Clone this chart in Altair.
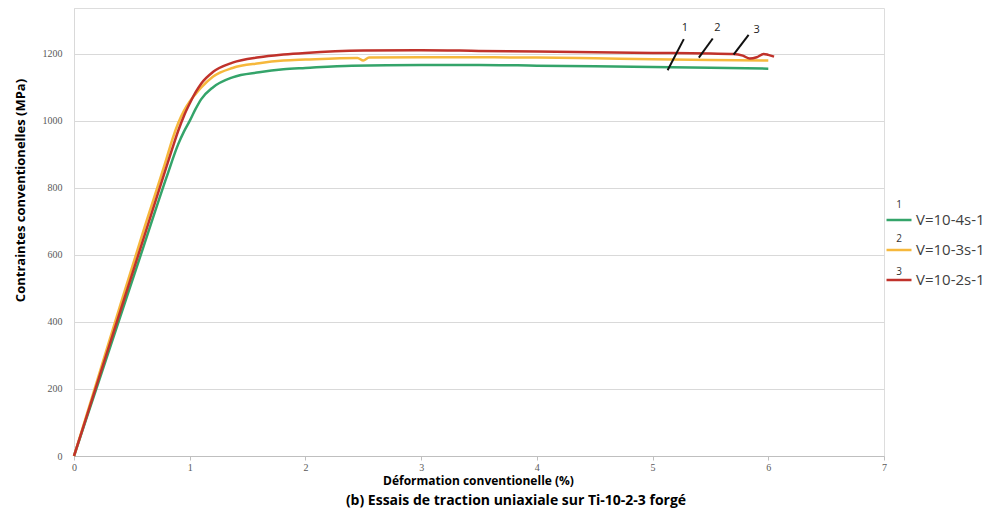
import altair as alt
import pandas as pd

# ---- data ----
series_names = ["V=10-4s-1", "V=10-3s-1", "V=10-2s-1"]
series_colors = ["#34A46A", "#F6B83C", "#C0322B"]

strain_1 = [0, 0.2, 0.4, 0.6, 0.8, 0.9, 0.95, 1.0, 1.05, 1.1, 1.2, 1.37, 1.6, 1.81, 2.0, 2.4, 3.0, 3.5, 4.0, 4.5, 5.0, 5.5, 6.0]
stress_1 = [0, 208, 416, 624, 832, 930, 968, 1000, 1035, 1065, 1100, 1130, 1145, 1154, 1158, 1165, 1167, 1167, 1165, 1163, 1161, 1159, 1156]

strain_2 = [0, 0.2, 0.4, 0.6, 0.8, 0.85, 0.9, 0.95, 1.0, 1.05, 1.1, 1.2, 1.37, 1.6, 1.81, 2.0, 2.45, 2.5, 2.55, 3.0, 3.5, 4.0, 4.5, 5.0, 5.5, 6.0]
stress_2 = [0, 225, 450, 672, 888, 945, 993, 1030, 1058, 1080, 1100, 1132, 1158, 1172, 1180, 1183, 1188, 1180, 1189, 1190, 1190, 1189, 1187, 1184, 1182, 1180]

strain_3 = [0, 0.2, 0.4, 0.6, 0.8, 0.85, 0.9, 0.95, 1.0, 1.05, 1.1, 1.2, 1.37, 1.6, 1.81, 2.0, 2.5, 3.0, 3.5, 4.0, 4.5, 5.0, 5.5, 5.7, 5.78, 5.84, 5.9, 5.96, 6.0, 6.05]
stress_3 = [0, 216, 432, 648, 864, 918, 970, 1015, 1052, 1085, 1112, 1146, 1174, 1190, 1198, 1203, 1210, 1211, 1209, 1207, 1205, 1203, 1201, 1200, 1195, 1186, 1190, 1200, 1197, 1192]

x_ticks = [0, 1, 2, 3, 4, 5, 6, 7]
y_ticks = [0, 200, 400, 600, 800, 1000, 1200]

# slash annotations on curve ends
annot_labels = ["1", "2", "3"]
annot_x1 = [5.13, 5.40, 5.70]
annot_y1 = [1151, 1189, 1198]
annot_x2 = [5.27, 5.52, 5.83]
annot_y2 = [1244, 1246, 1257]
annot_tx = [5.28, 5.56, 5.90]
annot_ty = [1278, 1278, 1272]

x_title = "Déformation  conventionelle (%)"
y_title = "Contraintes conventionelles (MPa)"
subtitle = "(b) Essais de traction uniaxiale sur Ti-10-2-3 forgé"

# ---- layout ----
W, H = 810, 448
FONT = "Open Sans"

x_scale = alt.Scale(domain=[0, 7], nice=False, zero=False)
y_scale = alt.Scale(domain=[0, 1337], nice=False)
color_scale = alt.Scale(domain=series_names, range=series_colors)

x_axis = alt.Axis(values=x_ticks, grid=False, title=x_title, titleFont=FONT, titleFontSize=12,
                  titleFontWeight="bold", titleColor="#000000", titleX=404, titleY=28,
                  titleAlign="center", titleBaseline="alphabetic", format="d",
                  labelFont="Liberation Serif", labelFontSize=10, labelColor="#595959", labelPadding=2,
                  tickSize=4, tickColor="#bfbfbf", domainColor="#bfbfbf", labelFlush=False)
y_axis = alt.Axis(values=y_ticks, grid=True, gridColor="#d9d9d9", ticks=False, title=y_title,
                  titleFont=FONT, titleFontSize=13, titleFontWeight="bold", titleColor="#000000",
                  titleAngle=-90, titleX=-54, titleY=182, titleAlign="center", titleBaseline="middle",
                  format="d", labelFont="Liberation Serif", labelFontSize=10, labelColor="#595959",
                  labelPadding=12, domainColor="#d9d9d9")

legend = alt.Legend(title=None, orient="none", legendX=811, legendY=198, symbolType="stroke",
                    symbolSize=625, symbolStrokeWidth=2.5, rowPadding=8, labelOffset=3,
                    labelFont=FONT, labelFontSize=15, labelColor="#404040", padding=0)

layers = []
for i, (xs, ys) in enumerate([(strain_1, stress_1), (strain_2, stress_2), (strain_3, stress_3)]):
    df = pd.DataFrame({"strain": xs, "stress": ys, "series": series_names[i], "idx": range(len(xs))})
    layers.append(alt.Chart(df).mark_line(strokeWidth=2.5, interpolate="monotone").encode(
        x=alt.X("strain:Q", scale=x_scale, axis=x_axis),
        y=alt.Y("stress:Q", scale=y_scale, axis=y_axis),
        color=alt.Color("series:N", scale=color_scale, legend=legend),
        order="idx:Q",
    ))

ann = pd.DataFrame({"x1": annot_x1, "y1": annot_y1, "x2": annot_x2, "y2": annot_y2,
                    "tx": annot_tx, "ty": annot_ty, "label": annot_labels})
slashes = alt.Chart(ann).mark_rule(color="#111111", strokeWidth=2).encode(
    x=alt.X("x1:Q", scale=x_scale, axis=x_axis), y=alt.Y("y1:Q", scale=y_scale, axis=y_axis),
    x2="x2:Q", y2="y2:Q")
slash_text = alt.Chart(ann).mark_text(font=FONT, fontSize=11, color="#222222", baseline="middle").encode(
    x=alt.X("tx:Q", scale=x_scale, axis=x_axis), y=alt.Y("ty:Q", scale=y_scale, axis=y_axis),
    text="label:N")

# small numbers above legend symbols
leg_nums = pd.DataFrame({"label": annot_labels, "py": [197, 231, 264]})
leg_text = alt.Chart(leg_nums).mark_text(font=FONT, fontSize=10, color="#333333", baseline="middle").encode(
    x=alt.value(825), y=alt.value(0), yOffset=alt.YOffset("py:Q", scale=None), text="label:N")

sub = alt.Chart(pd.DataFrame({"t": [subtitle]})).mark_text(
    font=FONT, fontSize=14, fontWeight="bold", color="#000000", baseline="alphabetic").encode(
    x=alt.value(442), y=alt.value(497), text="t:N")

chart = alt.layer(*layers, slashes, slash_text, leg_text, sub).properties(
    width=W, height=H,
    autosize=alt.AutoSizeParams(type="none"),
    padding={"left": 66, "top": 0, "right": 112, "bottom": 54},
).configure_view(strokeWidth=0).configure(background="#ffffff")

chart.save("out.html", embed_options={"renderer": "svg", "actions": False})
